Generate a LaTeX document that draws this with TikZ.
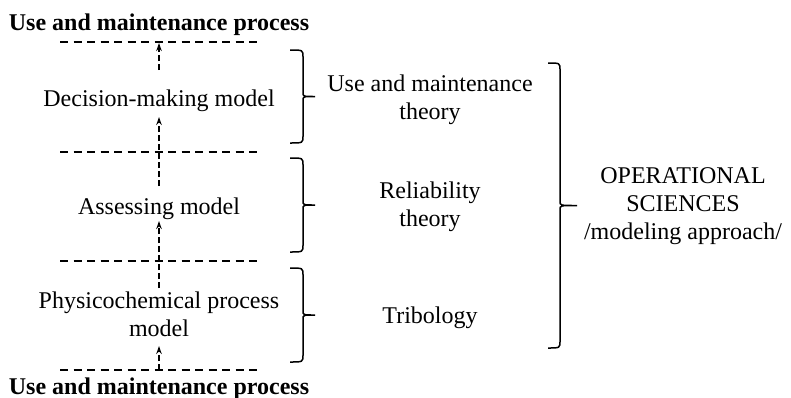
\documentclass[tikz,border=0pt]{standalone}
\usepackage{fontspec}
\setmainfont{Liberation Serif}
\newfontfamily\tnr{Liberation Serif}
\usetikzlibrary{arrows.meta}
\newcommand{\sqbrace}[5]{%
  \pgfmathsetmacro\bmid{(#4+#5)/2}%
  \draw[brl] (#1,#4) .. controls (#2,#4) .. (#2,#4+7) -- (#2,\bmid-4)
    .. controls (#2,\bmid) .. (#3,\bmid)
    .. controls (#2,\bmid) .. (#2,\bmid+4) -- (#2,#5-7)
    .. controls (#2,#5) .. (#1,#5);%
}
\begin{document}
\begin{tikzpicture}[x=1pt,y=-1pt,
  txt/.style={font=\tnr\fontsize{24}{28}\selectfont,align=center,inner sep=0pt,anchor=base},
  ttl/.style={font=\tnr\fontsize{24}{28}\selectfont\bfseries,inner sep=0pt,anchor=base},
  sep/.style={line width=1.4pt,dash pattern=on 8pt off 5.5pt},
  up/.style={line width=1.4pt,dash pattern=on 6pt off 3pt,-{Stealth[length=8pt,width=5.5pt]}},
  brl/.style={line width=1.5pt}]
\useasboundingbox (0,0) rectangle (791,397);
% titles
\node[ttl] (top) at (159,30) {Use and maintenance process};
\node[ttl] (bot) at (159,394) {Use and maintenance process};
% dashed separators
\coordinate (l1a) at (60,42);  \coordinate (l1b) at (262,42);
\coordinate (l2a) at (60,152); \coordinate (l2b) at (262,152);
\coordinate (l3a) at (60,261); \coordinate (l3b) at (262,261);
\coordinate (l4a) at (60,370); \coordinate (l4b) at (262,370);
\draw[sep] (l1a) -- (l1b);
\draw[sep] (l2a) -- (l2b);
\draw[sep] (l3a) -- (l3b);
\draw[sep] (l4a) -- (l4b);
% models
\node[txt] (dec) at (159,106) {Decision-making model};
\node[txt] (ass) at (159,214) {Assessing model};
\node[txt,anchor=north] (phy) at (159,292) {Physicochemical process\\model};
% arrows
\coordinate (a1s) at (159,70);  \coordinate (a1e) at (159,43);
\coordinate (a2s) at (159,186); \coordinate (a2e) at (159,117);
\coordinate (a3s) at (159,288); \coordinate (a3e) at (159,221);
\coordinate (a4s) at (159,370); \coordinate (a4e) at (159,346);
\draw[up] (a1s) -- (a1e);
\draw[up] (a2s) -- (a2e);
\draw[up] (a3s) -- (a3e);
\draw[up] (a4s) -- (a4e);
% small braces
\sqbrace{290}{303}{315}{50}{143}
\sqbrace{290}{303}{315}{158}{252}
\sqbrace{290}{303}{315}{268}{362}
% theories
\node[txt,anchor=north] (umt) at (430,75) {Use and maintenance\\theory};
\node[txt,anchor=north] (rel) at (430,182) {Reliability\\theory};
\node[txt] (tri) at (430,323) {Tribology};
% big brace
\sqbrace{548}{560}{577}{63}{348}
\node[txt,anchor=north] (ops) at (683,167) {OPERATIONAL\\SCIENCES\\/modeling approach/};
\end{tikzpicture}
\end{document}
